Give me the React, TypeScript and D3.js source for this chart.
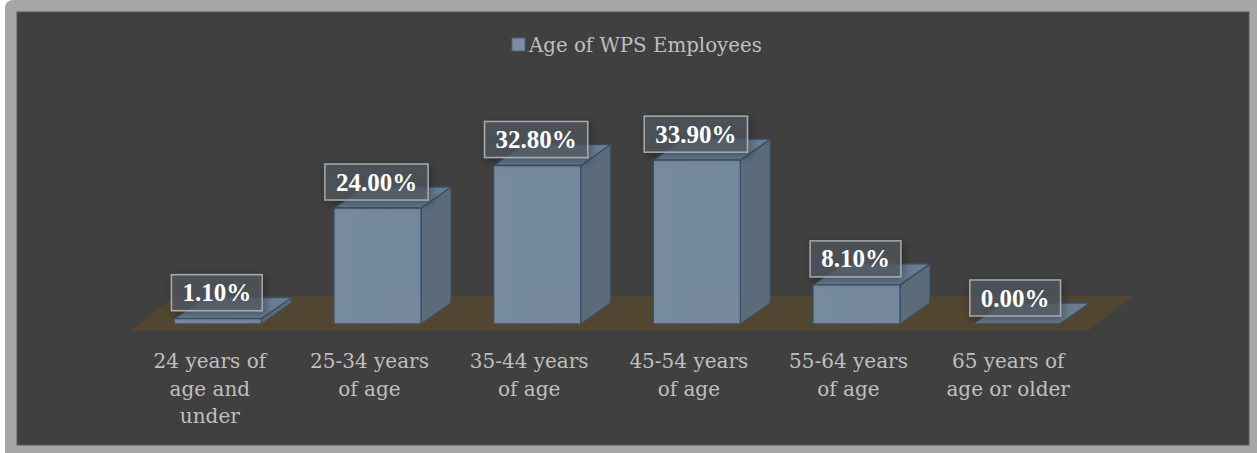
import React from 'react';
import * as d3 from 'd3';

const categories: string[][] = [
  ['24 years of', 'age and', 'under'],
  ['25-34 years', 'of age'],
  ['35-44 years', 'of age'],
  ['45-54 years', 'of age'],
  ['55-64 years', 'of age'],
  ['65 years of', 'age or older'],
];
const values: number[] = [1.1, 24.0, 32.8, 33.9, 8.1, 0.0];
const seriesName = 'Age of WPS Employees';

const W = 1257;
const H = 453;

const fmt = d3.format('.2f');

function measure(text: string, font: string): number {
  if (typeof document === 'undefined') return text.length * 12;
  const c = document.createElement('canvas').getContext('2d');
  if (!c) return text.length * 12;
  c.font = font;
  return c.measureText(text).width;
}

export default function App() {
  const floorFrontY = 331;
  const floorBackY = 296;
  const floorLeft = 130;
  const floorRight = 1088;
  const floorDx = 45;

  const x = d3
    .scaleBand<number>()
    .domain(d3.range(values.length))
    .range([floorLeft, floorRight])
    .paddingInner(0.455)
    .paddingOuter(0.2275);
  const bw = x.bandwidth();

  const baseY = 324;
  const y = d3.scaleLinear().domain([0, 40]).range([baseY, baseY - 193.3]);

  const ddx = 30;
  const ddy = 21;
  const shift = 8;

  const labelFont = "bold 25px 'Liberation Serif'";

  const floorPts = [
    [floorLeft, floorFrontY],
    [floorRight, floorFrontY],
    [floorRight + floorDx, floorBackY],
    [floorLeft + floorDx, floorBackY],
  ];

  const poly = (pts: number[][]) => pts.map((p) => p.join(',')).join(' ');

  return (
    <svg
      width={W}
      height={H}
      style={{ position: 'absolute', left: 0, top: 0, display: 'block' }}
    >
      <defs>
        <filter id="lblShadow" x="-30%" y="-40%" width="160%" height="180%">
          <feDropShadow dx="2" dy="3" stdDeviation="4" floodColor="#000" floodOpacity="0.45" />
        </filter>
        <linearGradient id="frontGrad" x1="0" x2="1" y1="0" y2="0">
          <stop offset="0" stopColor="#7a8fa6" />
          <stop offset="1" stopColor="#778ca3" />
        </linearGradient>
      </defs>
      <rect x={5} y={0} width={W - 5 + 8} height={H + 8} rx={8} fill="#a6a6a6" />
      <rect x={17} y={12} width={1232} height={433} fill="#404040" stroke="#575757" strokeWidth={1} />

      {/* legend */}
      <rect x={512} y={38} width={13} height={13} fill="#7a8fa6" stroke="#4d6177" strokeWidth={1} />
      <text
        x={529}
        y={52}
        fontFamily="'DejaVu Serif', serif"
        fontSize={19.8}
        fill="#bfbfbf"
      >
        {seriesName}
      </text>

      {/* floor */}
      <polygon points={poly(floorPts)} fill="#514631" />

      {/* bars */}
      {values.map((v, i) => {
        const x0 = (x(i) as number) + shift;
        const x1 = x0 + bw;
        const yTop = y(v);
        const yBot = baseY;
        const side = [
          [x1, yBot],
          [x1 + ddx, yBot - ddy],
          [x1 + ddx, yTop - ddy],
          [x1, yTop],
        ];
        const top = [
          [x0, yTop],
          [x0 + ddx, yTop - ddy],
          [x1 + ddx, yTop - ddy],
          [x1, yTop],
        ];
        return (
          <g key={'bar' + i} stroke="#3c5064" strokeWidth={1.3} strokeLinejoin="round" opacity={0.95}>
            {v > 0 && <polygon points={poly(side)} fill="#5d6e80" />}
            <polygon points={poly(top)} fill="#6a8097" />
            {v > 0 && (
              <rect x={x0} y={yTop} width={bw} height={yBot - yTop} fill="url(#frontGrad)" />
            )}
          </g>
        );
      })}

      {/* data labels */}
      {values.map((v, i) => {
        const x0 = (x(i) as number) + shift;
        const cx = x0 + bw / 2 - 1;
        const cy = y(v) - 26;
        const t = fmt(v) + '%';
        const tw = measure(t, labelFont);
        const bwid = tw + 22;
        const bh = 36;
        return (
          <g key={'lbl' + i}>
            <rect
              x={cx - bwid / 2}
              y={cy - bh / 2}
              width={bwid}
              height={bh}
              fill="rgba(84,90,100,0.68)"
              stroke="#a9a9a9"
              strokeWidth={1.5}
              filter="url(#lblShadow)"
            />
            <text
              x={cx}
              y={cy + 8.5}
              textAnchor="middle"
              fontFamily="'Liberation Serif', serif"
              fontWeight="bold"
              fontSize={25}
              fill="#ffffff"
            >
              {t}
            </text>
          </g>
        );
      })}

      {/* category labels */}
      {categories.map((lines, i) => {
        const cx = (x(i) as number) + bw / 2;
        return (
          <text
            key={'cat' + i}
            textAnchor="middle"
            fontFamily="'DejaVu Serif', serif"
            fontSize={20}
            fill="#bfbfbf"
          >
            {lines.map((ln, j) => (
              <tspan key={j} x={cx} y={368 + j * 27.5}>
                {ln}
              </tspan>
            ))}
          </text>
        );
      })}
    </svg>
  );
}
